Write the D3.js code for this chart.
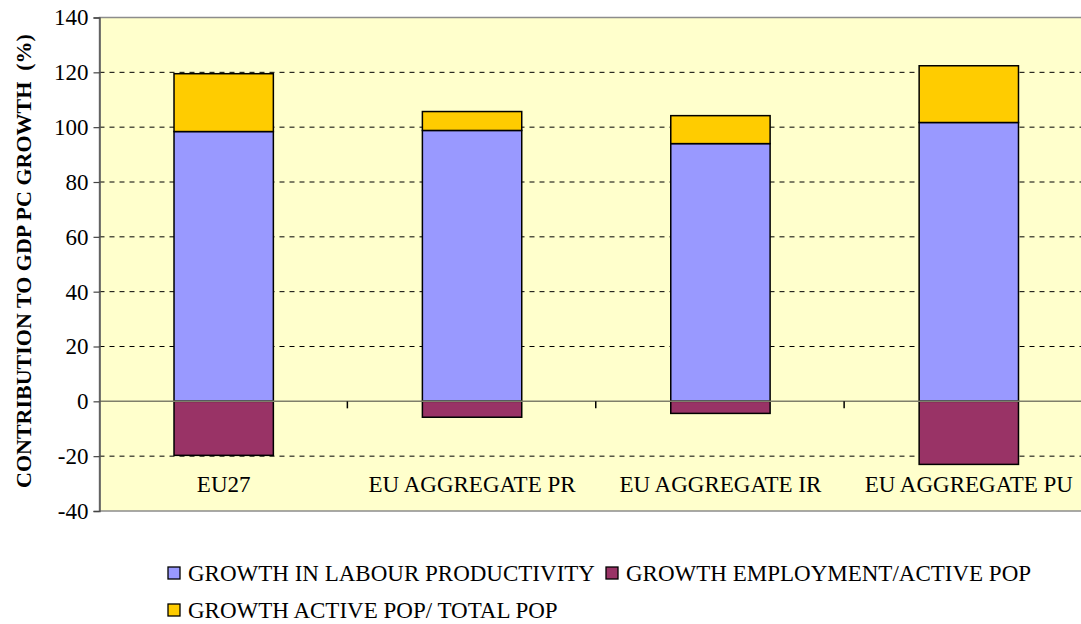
<!DOCTYPE html>
<html>
<head>
<meta charset="utf-8">
<script src="https://cdn.jsdelivr.net/npm/d3@7"></script>
<style>
  body { margin: 0; background: #ffffff; }
  svg { display: block; font-family: "Liberation Serif", "Times New Roman", serif; }
</style>
</head>
<body>
<svg id="chart" width="1081" height="624"></svg>
<script>
// Regions compared
const categories = ["EU27", "EU AGGREGATE PR", "EU AGGREGATE IR", "EU AGGREGATE PU"];

// Contributions to GDP per capita growth (%)
const labourProductivity = [98.4, 98.8, 94.0, 101.7];
const employmentActive   = [-19.7, -5.8, -4.4, -23.0];
const activeTotal        = [21.1, 6.9, 10.2, 20.7];

const seriesNames = [
  "GROWTH IN LABOUR PRODUCTIVITY",
  "GROWTH EMPLOYMENT/ACTIVE POP",
  "GROWTH ACTIVE POP/ TOTAL POP"
];
const seriesColors = ["#9999FF", "#993366", "#FFCC00"];

const yTicks = [-40, -20, 0, 20, 40, 60, 80, 100, 120, 140];

const svg = d3.select("#chart");
const plot = { left: 99.5, right: 1093, top: 17.5, bottom: 511 };

const y = d3.scaleLinear().domain([-40, 140]).range([plot.bottom, plot.top]);
const xBand = d3.scaleBand().domain(categories).range([plot.left, plot.right])
  .paddingInner(0.6).paddingOuter(0.3);
const step = xBand.step();

// plot background
svg.append("rect")
  .attr("x", plot.left).attr("y", plot.top)
  .attr("width", plot.right - plot.left).attr("height", plot.bottom - plot.top)
  .attr("fill", "#FFFFCC").attr("stroke", "#8c8c8c").attr("stroke-width", 1.5);

// dashed gridlines
svg.append("g").selectAll("line")
  .data(yTicks.filter(t => t !== 0 && t !== -40 && t !== 140))
  .join("line")
  .attr("x1", plot.left).attr("x2", plot.right)
  .attr("y1", d => y(d)).attr("y2", d => y(d))
  .attr("stroke", "#000").attr("stroke-width", 1)
  .attr("stroke-dasharray", "5,5");

// stacked bars
const stacks = categories.map((c, i) => ({
  cat: c,
  segs: [
    { s: 0, y0: 0, y1: labourProductivity[i] },
    { s: 1, y0: employmentActive[i], y1: 0 },
    { s: 2, y0: labourProductivity[i], y1: labourProductivity[i] + activeTotal[i] }
  ]
}));

const barG = svg.append("g");
stacks.forEach(st => {
  barG.selectAll(null).data(st.segs).join("rect")
    .attr("x", xBand(st.cat))
    .attr("width", xBand.bandwidth())
    .attr("y", d => y(d.y1))
    .attr("height", d => y(d.y0) - y(d.y1))
    .attr("fill", d => seriesColors[d.s])
    .attr("stroke", "#000").attr("stroke-width", 1.5);
});

// zero line with category tick marks
svg.append("line")
  .attr("x1", plot.left).attr("x2", plot.right)
  .attr("y1", y(0)).attr("y2", y(0))
  .attr("stroke", "#7f7f6a").attr("stroke-width", 1.5);
const boundaries = categories.slice(1).map(c => xBand(c) - step * 0.3 - 0.5);
svg.append("g").selectAll("line").data(boundaries).join("line")
  .attr("x1", d => d).attr("x2", d => d)
  .attr("y1", y(0)).attr("y2", y(0) + 7)
  .attr("stroke", "#000").attr("stroke-width", 1.5);

// y axis
const yAxis = svg.append("g")
  .attr("transform", `translate(${plot.left},0)`)
  .call(d3.axisLeft(y).tickValues(yTicks).tickSize(6).tickPadding(5).tickFormat(d => String(d)));
yAxis.select(".domain").attr("stroke", "#555").attr("stroke-width", 1.5);
yAxis.selectAll(".tick line").attr("stroke", "#444").attr("stroke-width", 1.2);
yAxis.selectAll(".tick text")
  .attr("font-family", "Liberation Serif, Times New Roman, serif")
  .attr("font-size", 23).attr("fill", "#000");

// y title
svg.append("text")
  .attr("transform", `translate(31,261) rotate(-90)`)
  .attr("text-anchor", "middle")
  .attr("font-size", 22).attr("font-weight", "bold")
  .style("white-space", "pre")
  .text("CONTRIBUTION TO GDP PC GROWTH  (%)");

// category labels
svg.append("g").selectAll("text").data(categories).join("text")
  .attr("x", d => xBand(d) + xBand.bandwidth() / 2)
  .attr("y", 492)
  .attr("text-anchor", "middle")
  .attr("font-size", 23)
  .text(d => d);

// legend
const legendItems = [
  { i: 0, x: 168, y: 573 },
  { i: 1, x: 606, y: 573 },
  { i: 2, x: 168, y: 610 }
];
const lg = svg.append("g");
legendItems.forEach(it => {
  lg.append("rect")
    .attr("x", it.x).attr("y", it.y - 6)
    .attr("width", 12).attr("height", 12)
    .attr("fill", seriesColors[it.i]).attr("stroke", "#000").attr("stroke-width", 1.3);
  lg.append("text")
    .attr("x", it.x + 20).attr("y", it.y + 8)
    .attr("font-size", 23)
    .text(seriesNames[it.i]);
});
</script>
</body>
</html>
